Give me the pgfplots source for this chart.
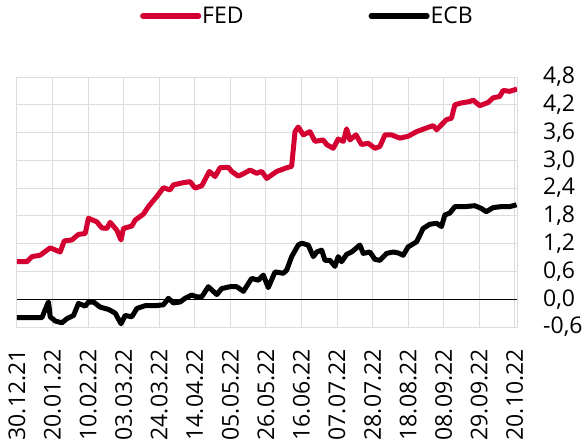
\documentclass[border=0pt]{standalone}
\usepackage{pgfplots}
\pgfplotsset{compat=1.18}
\usepackage{fontspec}
\setmainfont{Open Sans}
\definecolor{fedred}{RGB}{213,0,50}
\definecolor{gridgray}{RGB}{220,220,220}
\begin{document}
\begin{tikzpicture}[font=\fontsize{23bp}{27bp}\selectfont]
\begin{axis}[
  at={(17bp,119bp)}, anchor=south west,
  scale only axis, width=500bp, height=250bp,
  xmin=0, xmax=295.3, ymin=-0.6, ymax=4.8,
  xtick={0,21,...,294},
  xticklabels={30.12.21,20.01.22,10.02.22,03.03.22,24.03.22,14.04.22,05.05.22,26.05.22,16.06.22,07.07.22,28.07.22,18.08.22,08.09.22,29.09.22,20.10.22},
  ytick={-0.6,0,0.6,1.2,1.8,2.4,3.0,3.6,4.2,4.8},
  yticklabel pos=right,
  /pgf/number format/.cd, fixed, fixed zerofill, precision=1, use comma, assume math mode=true,
  /pgfplots/.cd,
  yticklabel style={anchor=west, inner sep=0pt, xshift=26bp},
  xticklabel style={yshift=-22bp, rotate=90, anchor=east, inner sep=0pt},
  major tick length=0pt,
  grid=major,
  major grid style={gridgray, line width=1bp},
  axis line style={gridgray, line width=1bp},
  extra y ticks={0}, extra y tick labels={},
  extra y tick style={grid=major, major grid style={black, line width=0.8bp}},
  legend columns=2,
  legend style={draw=none, fill=none, at={(0.246,1.244)}, anchor=west, inner sep=0pt,
    /tikz/every even column/.append style={column sep=124bp},
    nodes={inner sep=1bp}},
  legend image code/.code={\draw[#1, line cap=round] (0bp,0bp) -- (56bp,0bp);},
]
\addplot[fedred, line width=5bp, line join=round] coordinates {
(0,0.81)(5.9,0.81)(8.8,0.92)(13.7,0.95)(19.6,1.11)(25.5,1.02)(27.9,1.26)(32.4,1.28)
(36.3,1.40)(40.3,1.42)(42.2,1.75)(47.2,1.67)(50.1,1.54)(53.1,1.53)(55.0,1.66)(59.0,1.49)
(61.4,1.28)(62.9,1.53)(67.8,1.58)(69.8,1.71)(74.7,1.84)(77.6,2.00)(82.6,2.22)(86.5,2.41)
(90.4,2.36)(92.4,2.47)(97.3,2.51)(102.2,2.54)(105.2,2.40)(109.1,2.45)(113.6,2.76)(117.0,2.65)
(119.9,2.84)(124.8,2.85)(126.8,2.76)(130.7,2.66)(133.7,2.71)(137.6,2.79)(141.6,2.72)(144.5,2.76)
(147.5,2.61)(153.4,2.76)(159.3,2.84)(162.2,2.87)(164.2,3.62)(166.1,3.72)(169.1,3.55)(173.0,3.62)
(176.0,3.41)(180.9,3.44)(182.9,3.34)(186.8,3.26)(189.7,3.46)(192.7,3.41)(194.7,3.68)(196.6,3.44)
(200.2,3.55)(203.5,3.34)(207.4,3.37)(211.4,3.26)(214.3,3.30)(217.3,3.55)(221.2,3.55)(226.1,3.48)
(231.0,3.52)(236.0,3.62)(241.9,3.70)(245.8,3.75)(247.8,3.66)(253.7,3.88)(256.6,3.91)(258.6,4.20)
(262.5,4.24)(267.4,4.27)(269.4,4.30)(273.3,4.18)(278.2,4.25)(281.2,4.35)(285.1,4.38)(287.1,4.51)
(291.0,4.49)(295.3,4.54)
};
\addlegendentry{FED}
\addplot[black, line width=5bp, line join=round] coordinates {
(0,-0.40)(14.7,-0.40)(17.7,-0.13)(18.6,-0.06)(19.6,-0.38)(22.6,-0.47)(26.5,-0.51)(29.5,-0.42)
(33.4,-0.35)(36.3,-0.09)(40.3,-0.15)(42.2,-0.06)(45.2,-0.06)(49.1,-0.17)(54.0,-0.22)(58.0,-0.30)
(61.4,-0.53)(63.9,-0.35)(67.8,-0.38)(70.8,-0.20)(75.7,-0.14)(81.6,-0.14)(86.5,-0.12)(89.4,0.02)
(92.4,-0.08)(96.3,-0.06)(99.3,0.02)(103.2,0.09)(106.2,0.05)(109.1,0.05)(113.0,0.27)(118.0,0.10)
(120.9,0.23)(125.8,0.27)(129.8,0.27)(133.7,0.17)(138.6,0.45)(142.5,0.41)(145.5,0.52)(148.4,0.25)
(152.4,0.59)(157.3,0.56)(159.3,0.63)(162.2,0.92)(166.1,1.17)(168.1,1.21)(172.0,1.17)(175.0,0.92)
(177.0,1.02)(179.9,1.06)(181.9,0.84)(184.8,0.84)(187.8,0.71)(189.7,0.92)(191.7,0.81)(194.7,0.97)
(197.6,1.02)(202.5,1.17)(204.5,0.99)(208.4,1.02)(211.4,0.86)(214.3,0.84)(218.3,0.99)(222.2,1.02)
(225.1,1.00)(228.1,0.95)(231.0,1.13)(236.0,1.24)(239.9,1.53)(243.8,1.62)(247.8,1.64)(250.7,1.57)
(252.7,1.82)(255.6,1.86)(258.6,2.00)(264.5,2.00)(270.4,2.02)(274.3,1.96)(277.2,1.89)(281.2,1.98)
(286.1,2.00)(291.0,2.00)(295.0,2.04)
};
\addlegendentry{ECB}
\end{axis}
\pgfresetboundingbox
\useasboundingbox (0,0) rectangle (584bp,446bp);
\end{tikzpicture}
\end{document}
